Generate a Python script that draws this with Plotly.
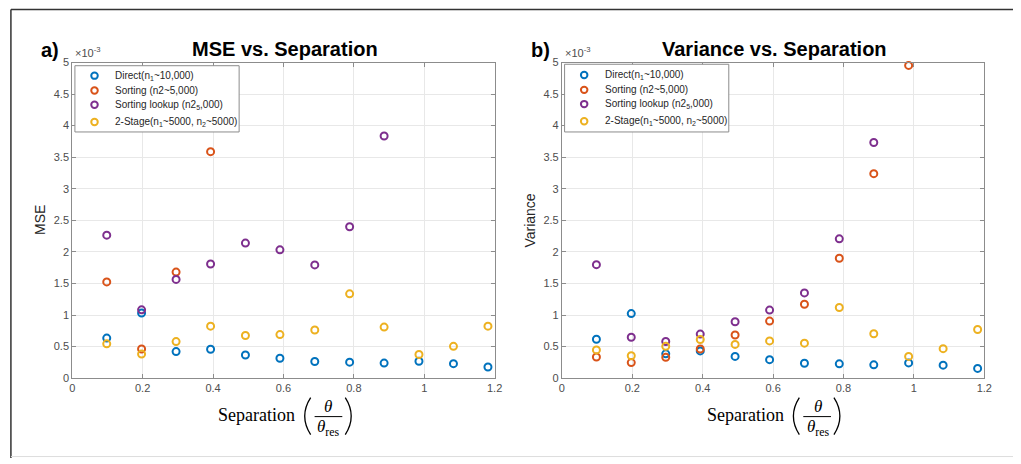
import plotly.graph_objects as go

# ---------------- data (values in units of 1e-3) ----------------
separation = [0.098, 0.197, 0.295, 0.393, 0.492, 0.590, 0.689, 0.788, 0.886, 0.985, 1.083, 1.181]

series_names = [
    "Direct(n<sub>1</sub>~10,000)",
    "Sorting (n2~5,000)",
    "Sorting lookup (n2<sub>5</sub>,000)",
    "2-Stage(n<sub>1</sub>~5000, n<sub>2</sub>~5000)",
]
series_colors = ["#0072BD", "#D95319", "#7E2F8E", "#EDB120"]

mse_direct = [0.634, 1.03, 0.42, 0.457, 0.366, 0.314, 0.264, 0.253, 0.238, 0.268, 0.229, 0.177]
mse_sorting = [1.524, 0.462, 1.68, 3.587]
mse_lookup = [2.265, 1.082, 1.564, 1.808, 2.139, 2.032, 1.793, 2.398, 3.835]
mse_2stage = [0.543, 0.381, 0.579, 0.823, 0.675, 0.69, 0.762, 1.335, 0.808, 0.375, 0.503, 0.823]

var_direct = [0.616, 1.022, 0.385, 0.431, 0.344, 0.293, 0.236, 0.226, 0.210, 0.241, 0.205, 0.154]
var_sorting = [0.334, 0.246, 0.329, 0.462, 0.683, 0.903, 1.170, 1.899, 3.239, 4.954]
var_lookup = [1.797, 0.647, 0.580, 0.698, 0.893, 1.078, 1.350, 2.207, 3.732]
var_2stage = [0.447, 0.354, 0.503, 0.611, 0.534, 0.590, 0.554, 1.119, 0.703, 0.344, 0.467, 0.770]

x_ticks = [0, 0.2, 0.4, 0.6, 0.8, 1.0, 1.2]
y_ticks = [0, 0.5, 1, 1.5, 2, 2.5, 3, 3.5, 4, 4.5, 5]

W, H = 1021, 464


def px(x):
    return x / W


def py(y):
    return 1 - y / H


fig = go.Figure()

panels = [
    (mse_direct, mse_sorting, mse_lookup, mse_2stage),
    (var_direct, var_sorting, var_lookup, var_2stage),
]
for p, vals in enumerate(panels):
    xa = "x" if p == 0 else "x2"
    ya = "y" if p == 0 else "y2"
    for name, color, v in zip(series_names, series_colors, vals):
        fig.add_trace(go.Scatter(
            x=separation[:len(v)], y=v, mode="markers", name=name,
            xaxis=xa, yaxis=ya, showlegend=False, cliponaxis=False,
            marker=dict(symbol="circle-open", size=7, color=color,
                        line=dict(color=color, width=2)),
        ))

axis_common = dict(
    showline=True, linecolor="#8c8c8c", linewidth=1, mirror="ticks",
    ticks="inside", ticklen=4, tickcolor="#8c8c8c",
    showgrid=True, gridcolor="#e8e8e8", gridwidth=1, zeroline=False,
    tickfont=dict(family="Liberation Sans, Arial", size=11, color="#4d4d4d"),
)

fig.update_layout(
    width=W, height=H, margin=dict(l=0, r=0, t=0, b=0),
    paper_bgcolor="white", plot_bgcolor="white",
    xaxis=dict(domain=[px(70), px(497)], range=[0, 1.2], tickvals=x_ticks,
               anchor="y", **axis_common),
    yaxis=dict(domain=[py(382), py(58)], range=[0, 5], tickvals=y_ticks,
               anchor="x", **axis_common),
    xaxis2=dict(domain=[px(565), px(992)], range=[0, 1.2], tickvals=x_ticks,
                anchor="y2", **axis_common),
    yaxis2=dict(domain=[py(382), py(58)], range=[0, 5], tickvals=y_ticks,
                anchor="x2", **axis_common),
    showlegend=False,
)

ann = []
shapes = []
sans = "Liberation Sans, Arial"
serif = "Liberation Serif, Times New Roman"
for off, title, ylab, letter in [(0, "MSE vs. Separation", "MSE", "a)"),
                                 (495, "Variance vs. Separation", "Variance", "b)")]:
    ann.append(dict(x=px(285 + off), y=py(44), text="<b>%s</b>" % title,
                    font=dict(family=sans, size=20, color="black")))
    ann.append(dict(x=px(48 + off), y=py(45), text="<b>%s</b>" % letter,
                    font=dict(family=sans, size=20, color="black")))
    ann.append(dict(x=px(71 + off), y=py(47), xanchor="left",
                    text="×10<sup>-3</sup>",
                    font=dict(family=sans, size=11, color="#4d4d4d")))
    ann.append(dict(x=px(38 + off), y=py(220), text=ylab, textangle=-90,
                    font=dict(family=sans, size=14, color="#262626")))
    # x-axis label: Separation (theta / theta_res)
    ann.append(dict(x=px(297 + off), y=py(420), xanchor="right", text="Separation",
                    font=dict(family=serif, size=18, color="black")))
    ann.append(dict(x=px(328.5 + off), y=py(411), text="<i>θ</i>",
                    font=dict(family=serif, size=17, color="black")))
    ann.append(dict(x=px(329 + off), y=py(433), text="<i>θ</i><sub>res</sub>",
                    font=dict(family=serif, size=17, color="black")))

# legends (compact, MATLAB-like)
legend_rows_y = [71.5, 86.7, 101.3, 119.0]
for lx, ltop in [(72.7, 61.3), (567.7, 59.8)]:
    shapes.append(dict(type="rect", xref="paper", yref="paper", layer="above",
                       x0=px(lx), x1=px(lx + 166), y0=py(ltop), y1=py(129.3),
                       fillcolor="white", line=dict(color="#8c8c8c", width=1)))
    for name, color, ry in zip(series_names, series_colors, legend_rows_y):
        if lx > 300:
            ry = ry - 0.6
        cx = lx + 19.8
        shapes.append(dict(type="circle", xref="paper", yref="paper", layer="above",
                           x0=px(cx - 3.3), x1=px(cx + 3.3), y0=py(ry - 3.3), y1=py(ry + 3.3),
                           line=dict(color=color, width=2)))
        ann.append(dict(x=px(lx + 38.5), y=py(ry), xanchor="left", text=name,
                        font=dict(family=sans, size=10, color="#262626")))

for a in ann:
    a.setdefault("xanchor", "center")
    a.setdefault("yanchor", "middle")
    a.update(xref="paper", yref="paper", showarrow=False)

for off in (0, 494):
    # fraction bar
    shapes.append(dict(type="line", xref="paper", yref="paper",
                       x0=px(315 + off), x1=px(343 + off), y0=py(421.5), y1=py(421.5),
                       line=dict(color="black", width=1)))
    # parentheses
    shapes.append(dict(type="path", xref="paper", yref="paper",
                       path="M %f %f Q %f %f %f %f" % (px(311 + off), py(402), px(299 + off), py(421),
                                                        px(311 + off), py(440)),
                       line=dict(color="black", width=1.3)))
    shapes.append(dict(type="path", xref="paper", yref="paper",
                       path="M %f %f Q %f %f %f %f" % (px(346 + off), py(402), px(358 + off), py(421),
                                                        px(346 + off), py(440)),
                       line=dict(color="black", width=1.3)))
# figure frame
shapes.append(dict(type="line", xref="paper", yref="paper", x0=px(8), x1=1, y0=py(3.5), y1=py(3.5),
                   line=dict(color="#333333", width=1.5)))
shapes.append(dict(type="line", xref="paper", yref="paper", x0=px(8), x1=px(8), y0=py(3.5), y1=0,
                   line=dict(color="#333333", width=1.5)))
shapes.append(dict(type="line", xref="paper", yref="paper", x0=px(8), x1=1, y0=py(462.5), y1=py(462.5),
                   line=dict(color="#dddddd", width=1)))

fig.update_layout(annotations=ann, shapes=shapes)

fig.write_html("out.html")
